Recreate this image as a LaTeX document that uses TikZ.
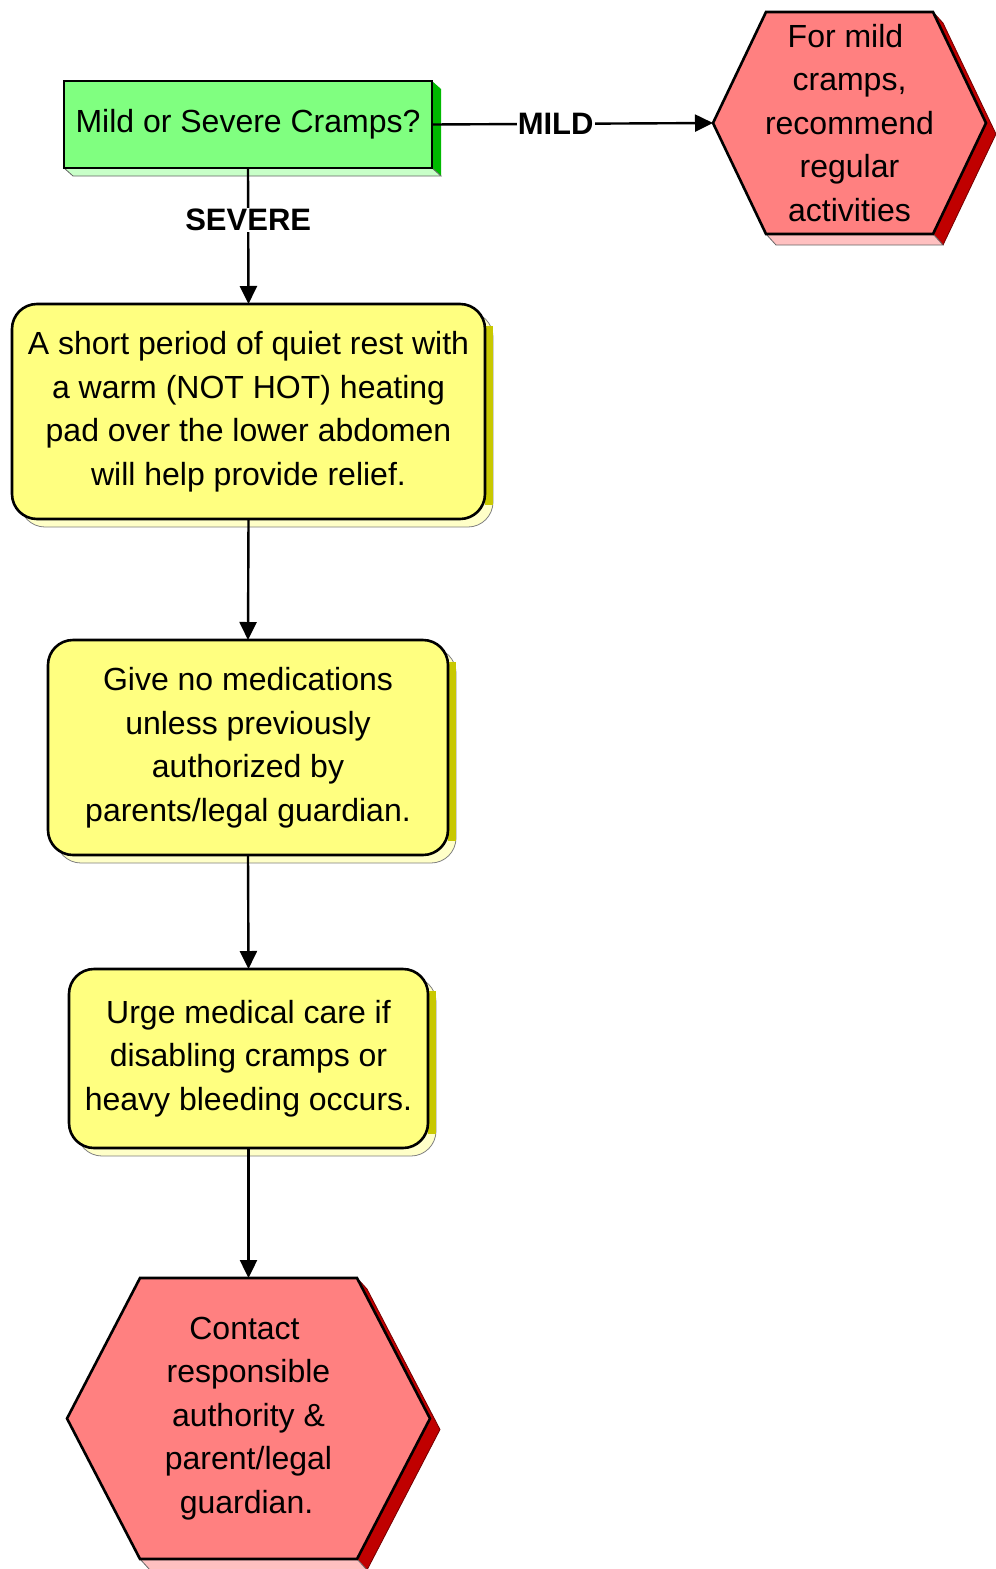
\documentclass[tikz,border=0pt]{standalone}
\usepackage{fontspec}
\setmainfont{Liberation Sans}
\usepackage{tikz}
\usetikzlibrary{calc, arrows.meta, positioning, backgrounds}
\definecolor{qgreen}{RGB}{128,255,128}
\definecolor{qgreendark}{RGB}{0,185,0}
\definecolor{qgreenlight}{RGB}{200,255,200}
\definecolor{stepyellow}{RGB}{255,255,128}
\definecolor{stepyellowdark}{RGB}{200,200,0}
\definecolor{stepyellowlight}{RGB}{255,255,200}
\definecolor{endred}{RGB}{255,128,128}
\definecolor{endreddark}{RGB}{192,0,0}
\definecolor{endredlight}{RGB}{255,192,192}

% hexagon with its 3D faces, drawn round an (invisible) node
\newcommand{\hexbody}[2]{%
  \coordinate (#1-tl) at ($(#1.north west)+(#2,0)$);
  \coordinate (#1-tr) at ($(#1.north east)+(-#2,0)$);
  \coordinate (#1-br) at ($(#1.south east)+(-#2,0)$);
  \coordinate (#1-bl) at ($(#1.south west)+(#2,0)$);
  \fill[endreddark] (#1-tr) -- (#1.east) -- (#1-br) -- ($(#1-br)+(10,11)$)
    -- ($(#1.east)+(10,11)$) -- ($(#1-tr)+(10,11)$) -- cycle;
  \filldraw[endredlight, draw=black!60, line width=0.8pt] (#1-bl) -- (#1-br)
    -- ($(#1-br)+(10,11)$) -- ($(#1-bl)+(10,11)$) -- cycle;
  \draw[endreddark!60!black, line width=0.8pt] (#1-tr) -- ($(#1-tr)+(10,11)$)
    -- ($(#1.east)+(10,11)$) -- ($(#1-br)+(10,11)$);
  \filldraw[fill=endred, draw=black, line width=2.6pt, line join=miter]
    (#1-tl) -- (#1-tr) -- (#1.east) -- (#1-br) -- (#1-bl) -- (#1.west) -- cycle;
}

\begin{document}
\begin{tikzpicture}[x=1pt, y=-1pt,
    font=\fontsize{32pt}{43.5pt}\selectfont]
  % Styles
  \tikzset{question/.style={draw, line width=2.6pt, fill=qgreen, rectangle, inner sep=0pt, outer sep=0pt, align=center}}
  \tikzset{stepbox/.style={draw, line width=2.6pt, fill=stepyellow, rectangle, rounded corners=25pt, inner sep=0pt, outer sep=0pt, align=center}}
  \tikzset{hexnode/.style={rectangle, inner sep=0pt, outer sep=0pt, align=center}}
  \tikzset{arrow/.style={-{Triangle[length=18pt, width=17pt]}, line width=2.4pt}}
  \tikzset{arrow_label/.style={fill=white, inner sep=1pt, font=\fontsize{31pt}{36pt}\selectfont\bfseries}}

  \useasboundingbox (0,0) rectangle (996,1569);

  % --- The question box ---
  \node[question, minimum width=368pt, minimum height=87pt] (q) at (248,124.5) {Mild or Severe Cramps?};

  % --- The mild branch, on the right ---
  \node[hexnode, minimum width=273pt, minimum height=222pt] (mild) at (849.5,123)
    {For mild\hspace*{8pt}\\cramps,\hspace*{8pt}\\recommend\hspace*{8pt}\\regular\hspace*{8pt}\\activities};

  % --- The severe branch, going down ---
  \node[stepbox, minimum width=473pt, minimum height=215pt] (rest) at (248.5,411.5)
    {A short period of quiet rest with\\a warm (NOT HOT) heating\\pad over the lower abdomen\\will help provide relief.};
  \node[stepbox, minimum width=400pt, minimum height=215pt] (meds) at (248,747.5)
    {Give no medications\\unless previously\\authorized by\\parents/legal guardian.};
  \node[stepbox, minimum width=359pt, minimum height=179pt] (care) at (248.5,1058.5)
    {Urge medical care if\\disabling cramps or\\heavy bleeding occurs.};
  \node[hexnode, minimum width=363pt, minimum height=281pt] (contact) at (248.5,1418.5)
    {Contact\hspace*{8pt}\\responsible\hspace*{8pt}\\authority \&\hspace*{8pt}\\parent/legal\hspace*{8pt}\\guardian.\hspace*{4pt}};

  % --- 3D faces and hexagons behind the texts ---
  \begin{scope}[on background layer]
    \fill[qgreendark] (q.north east) -- ($(q.north east)+(9,8)$) -- ($(q.south east)+(9,8)$) -- (q.south east) -- cycle;
    \filldraw[qgreenlight, draw=black!60, line width=0.8pt] (q.south west) -- (q.south east)
      -- ($(q.south east)+(9,8)$) -- ($(q.south west)+(9,8)$) -- cycle;
    \foreach \b in {rest, meds, care} {
      \filldraw[stepyellowlight, draw=black!50, line width=0.8pt, rounded corners=25pt]
        ($(\b.south west)+(8,8)$) rectangle ($(\b.north east)+(8,8)$);
      \fill[stepyellowdark] ($(\b.north east)+(0,22)$) rectangle ($(\b.south east)+(8,-14)$);
    }
    \hexbody{mild}{53}
    \hexbody{contact}{73}
  \end{scope}

  % --- The connectors ---
  \draw[arrow] (q.east) -- node[arrow_label, pos=0.44] {MILD} (mild.west);
  \draw[arrow] (q.south) -- node[arrow_label, pos=0.38] {SEVERE} (rest.north);
  \draw[arrow] (rest.south) -- (meds.north);
  \draw[arrow] (meds.south) -- (care.north);
  \draw[arrow] (care.south) -- (contact.north);

\end{tikzpicture}
\end{document}
